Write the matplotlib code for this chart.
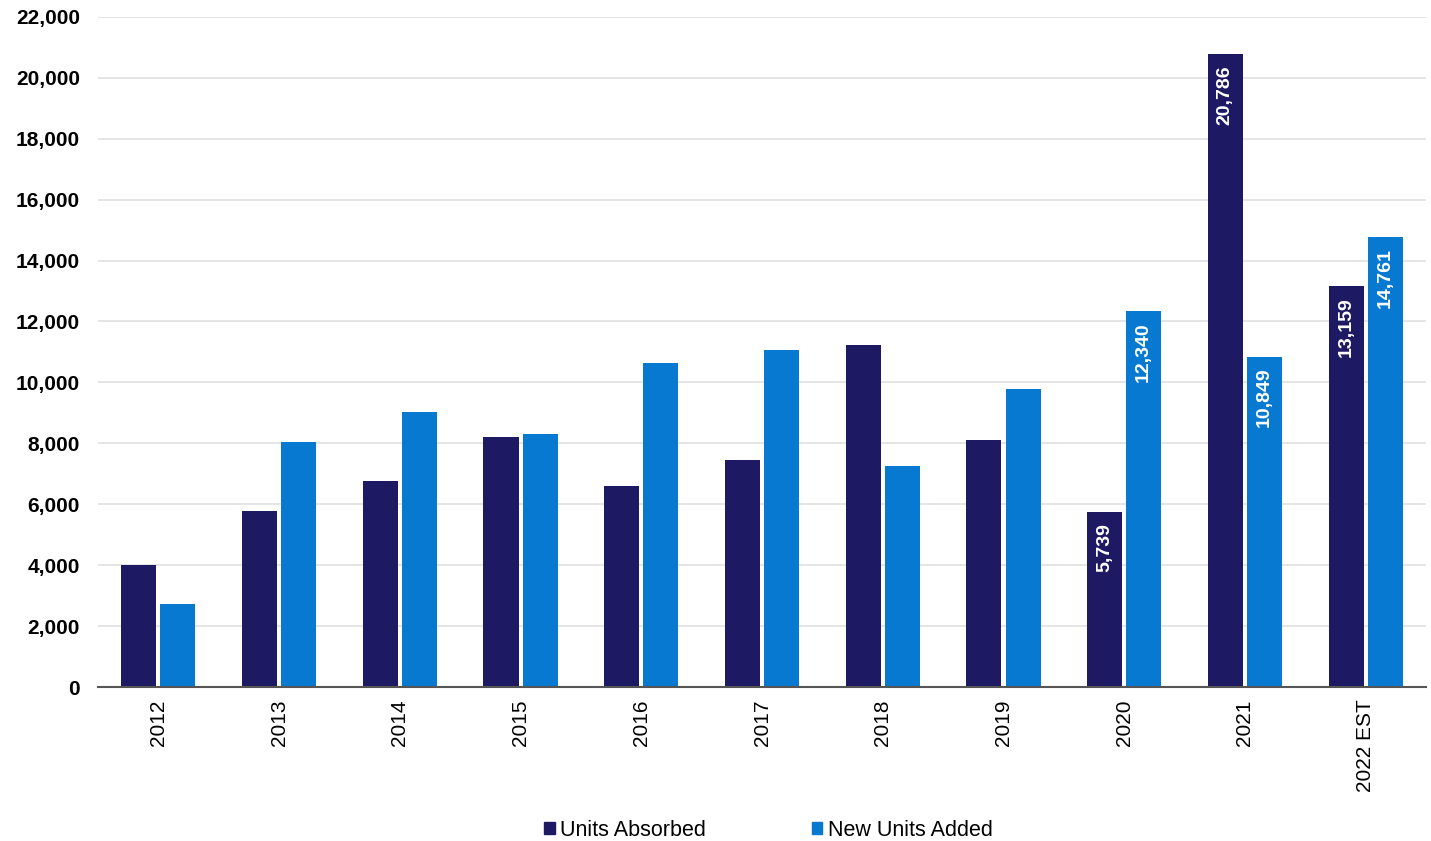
import matplotlib
matplotlib.use("Agg")
import matplotlib.pyplot as plt
from matplotlib.patches import Patch
import numpy as np

plt.rcParams['font.family'] = ['Liberation Sans', 'DejaVu Sans']

years = ["2012", "2013", "2014", "2015", "2016", "2017", "2018", "2019", "2020", "2021", "2022 EST"]
units_absorbed = [4010, 5780, 6770, 8210, 6600, 7450, 11230, 8110, 5739, 20786, 13159]
new_units_added = [2730, 8050, 9030, 8310, 10640, 11070, 7260, 9790, 12340, 10849, 14761]
labeled_years = ["2020", "2021", "2022 EST"]

c_abs = "#1D1A63"
c_new = "#0779D1"

fig = plt.figure(figsize=(14.31, 8.41), dpi=100)
ax = fig.add_axes([0.0685, 0.183, 0.928, 0.797])

x = np.arange(len(years))
w = 0.29
off = 0.162
b1 = ax.bar(x - off, units_absorbed, w, color=c_abs, zorder=3)
b2 = ax.bar(x + off, new_units_added, w, color=c_new, zorder=3)

for bars, vals in ((b1, units_absorbed), (b2, new_units_added)):
    for i, (rect, v) in enumerate(zip(bars, vals)):
        if years[i] in labeled_years:
            ax.annotate(f"{v:,}", (rect.get_x() + rect.get_width() / 2, v),
                        xytext=(0, -8), textcoords="offset points",
                        rotation=90, ha="center", va="top", color="white",
                        fontsize=14, fontweight="bold", zorder=4)

ax.set_xlim(-0.5, len(years) - 0.5)
ax.set_ylim(0, 22000)
ax.set_yticks(np.arange(0, 22001, 2000))
ax.set_yticklabels([f"{v:,}" for v in range(0, 22001, 2000)], fontsize=15, fontweight="bold")
ax.set_xticks(x)
ax.set_xticklabels(years, rotation=90, fontsize=15)
ax.tick_params(axis="y", length=0, pad=13)
ax.tick_params(axis="x", length=0, pad=9)
ax.grid(axis="y", color="#e0e0e0", linewidth=1.2, zorder=0)
for s in ("top", "right", "left"):
    ax.spines[s].set_visible(False)
ax.spines["bottom"].set_color("#555555")
ax.spines["bottom"].set_linewidth(1.5)
ax.spines["bottom"].set_zorder(5)

handles = [Patch(color=c_abs, label="Units Absorbed"), Patch(color=c_new, label="New Units Added")]
fig.legend(handles=handles, loc="center", bbox_to_anchor=(0.537, 0.013), ncol=2, frameon=False,
           fontsize=15.5, handlelength=0.5, handleheight=0.5, handletextpad=0.25, columnspacing=4.9)

fig.savefig("out.png", dpi=100)
